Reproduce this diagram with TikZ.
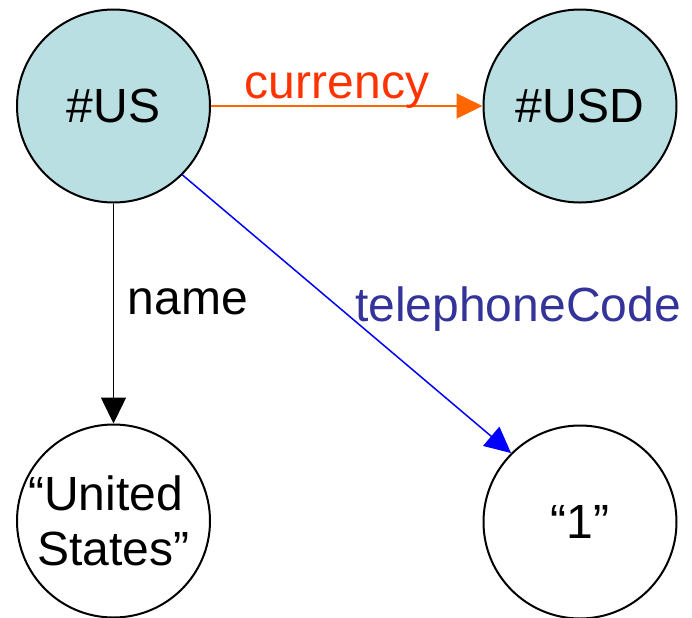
\documentclass[tikz,border=0pt]{standalone}
\usepackage{fontspec}
\setmainfont{Liberation Sans}
\usetikzlibrary{arrows.meta}
\definecolor{nodefill}{HTML}{B9DFE2}
\definecolor{currencyline}{HTML}{FF6600}
\definecolor{currencytext}{HTML}{FF3300}
\definecolor{teltext}{HTML}{333399}
\definecolor{telline}{HTML}{0000FF}
\begin{document}
\begin{tikzpicture}[x=0.5pt,y=-0.5pt,
  font=\fontsize{24}{27.5}\selectfont,
  resource/.style={circle,draw=black,line width=1pt,fill=nodefill,minimum size=96.5pt,inner sep=0pt},
  literal/.style={circle,draw=black,line width=1pt,fill=white,minimum size=96.5pt,inner sep=0pt,align=center},
  edge/.style={line width=0.75pt,-{Triangle[length=13pt,width=12.5pt]}},
  elabel/.style={anchor=base,inner sep=0pt}]
\useasboundingbox (0,0) rectangle (692,617);
\node[resource] (us) at (113.5,106) {\#US};
\node[resource] (usd) at (580,106) {\#USD};
\node[literal] (name) at (113.5,521) {“United\hspace*{8pt}\\States”};
\node[literal] (one) at (580,522) {“1”};
\draw[edge,currencyline] (us) -- (usd);
\draw[edge,black] (us) -- (name);
\draw[edge,telline] (us.south east) -- (one.north west);
\node[elabel,text=currencytext] at (337,98) {currency};
\node[elabel] at (188,314) {name};
\node[elabel,text=teltext] at (518,321) {telephoneCode};
\end{tikzpicture}
\end{document}
